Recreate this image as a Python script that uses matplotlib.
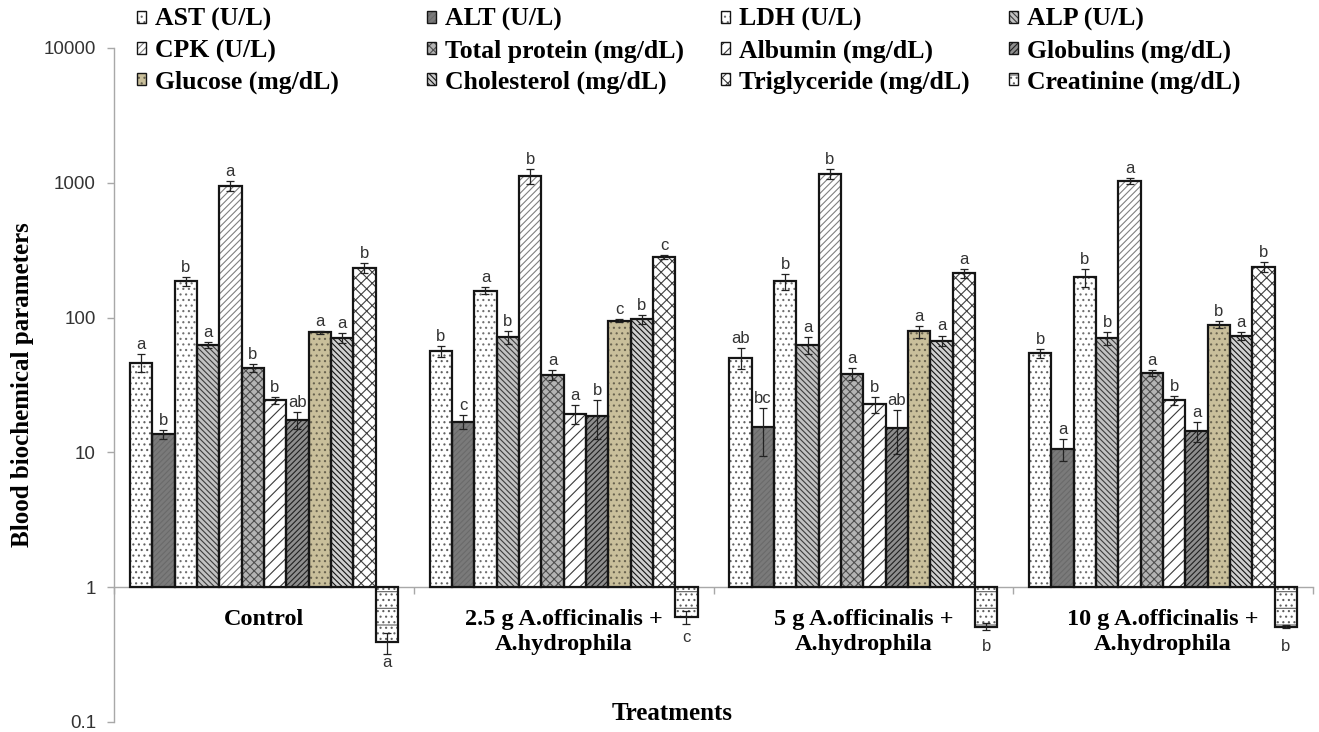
import matplotlib
matplotlib.use("Agg")
import matplotlib.pyplot as plt
import numpy as np
from matplotlib.patches import Patch
from matplotlib.font_manager import FontProperties

# ---------------------------------------------------------------- data
treatments = [
    "Control",
    "2.5 g A.officinalis +\nA.hydrophila",
    "5 g A.officinalis +\nA.hydrophila",
    "10 g A.officinalis +\nA.hydrophila",
]
parameters = [
    "AST (U/L)", "ALT (U/L)", "LDH (U/L)", "ALP (U/L)",
    "CPK (U/L)", "Total protein (mg/dL)", "Albumin (mg/dL)", "Globulins (mg/dL)",
    "Glucose (mg/dL)", "Cholesterol (mg/dL)", "Triglyceride (mg/dL)", "Creatinine (mg/dL)",
]

# mean values per treatment, in the order of `parameters`
control_mean = [46.4, 13.6, 186, 62.8, 950, 42.4, 24.3, 17.3, 77.8, 70.7, 233, 0.39]
g25_mean = [56.3, 16.8, 158.5, 71.5, 1127, 37.6, 19.3, 18.5, 95, 97, 283, 0.60]
g5_mean = [50.3, 15.4, 186, 62.8, 1172, 38.3, 22.7, 15.2, 79, 67.6, 213, 0.51]
g10_mean = [54.4, 10.6, 199, 70.7, 1035, 38.9, 24.3, 14.4, 88.8, 73.5, 239, 0.51]

# standard errors
control_err = [7, 1, 15, 3, 85, 3, 1.5, 2.5, 2, 6, 20, 0.07]
g25_err = [5, 2, 10, 8, 140, 3, 3, 6, 2, 7, 10, 0.07]
g5_err = [9, 6, 25, 9, 100, 4, 3, 5.5, 8, 6, 15, 0.03]
g10_err = [4, 2, 30, 8, 55, 2, 2, 2.5, 5, 5, 20, 0.01]

# significance letters
control_sig = ["a", "b", "b", "a", "a", "b", "b", "ab", "a", "a", "b", "a"]
g25_sig = ["b", "c", "a", "b", "b", "a", "a", "b", "c", "b", "c", "c"]
g5_sig = ["ab", "bc", "b", "a", "b", "a", "b", "ab", "a", "a", "a", "b"]
g10_sig = ["b", "a", "b", "b", "a", "a", "b", "a", "b", "a", "b", "b"]

means = [control_mean, g25_mean, g5_mean, g10_mean]
errors = [control_err, g25_err, g5_err, g10_err]
letters = [control_sig, g25_sig, g5_sig, g10_sig]

# ---------------------------------------------------------------- styles
# (face colour, hatch, hatch colour) per parameter
styles = [
    ("#ffffff", "...", "#606060"),           # AST
    ("#7a7a7a", "//////", "#6a6a6a"),        # ALT
    ("#ffffff", "...", "#707070"),           # LDH
    ("#c2c2c2", "\\\\\\\\\\\\", "#3c3c3c"),  # ALP
    ("#ffffff", "/////", "#808080"),         # CPK
    ("#b4b4b4", "xxxx", "#505050"),          # Total protein
    ("#ffffff", "///", "#3a3a3a"),           # Albumin
    ("#8e8e8e", "//////", "#202020"),        # Globulins
    ("#c9bf9b", "...", "#6a6450"),           # Glucose
    ("#cfcfcf", "\\\\\\\\\\\\", "#141414"),  # Cholesterol
    ("#ffffff", "xxx", "#404040"),           # Triglyceride
    ("#ffffff", "-...", "#606060"),          # Creatinine
]

plt.rcParams["hatch.linewidth"] = 0.8
serif = "Liberation Serif"
sans = "Liberation Sans"
axis_grey = "#a8a8a8"
edge = "#151515"

W, H = 1319, 732
fig = plt.figure(figsize=(W / 100, H / 100), dpi=100)
ax = fig.add_axes([114 / W, 10 / H, 1199 / W, 674 / H])
ax.set_yscale("log")

n_par = len(parameters)
bar_w = 0.0745
xc = np.arange(len(treatments))

for j in range(n_par):
    vals = np.array([m[j] for m in means], dtype=float)
    errs = np.array([e[j] for e in errors], dtype=float)
    xs = xc + (j - (n_par - 1) / 2) * bar_w
    face, hatch, hcol = styles[j]
    ax.bar(xs, vals - 1, bottom=1, width=bar_w, color=face, hatch=hatch,
           edgecolor=hcol, linewidth=0, zorder=2)
    ax.bar(xs, vals - 1, bottom=1, width=bar_w, fill=False,
           edgecolor=edge, linewidth=1.6, zorder=3)
    ax.errorbar(xs, vals, yerr=errs, fmt="none", ecolor="#222222",
                elinewidth=0.9, capsize=3, capthick=0.9, zorder=4)
    for k in range(len(treatments)):
        sig = letters[k][j]
        if vals[k] >= 1:
            ax.annotate(sig, (xs[k], vals[k] + errs[k]), xytext=(0, 1.5),
                        textcoords="offset points", ha="center", va="bottom",
                        fontsize=12, family=sans, color="#333333", zorder=5)
        else:
            ax.annotate(sig, (xs[k], vals[k]), xytext=(0, -9),
                        textcoords="offset points", ha="center", va="top",
                        fontsize=12, family=sans, color="#333333", zorder=5)

# treatment names under the baseline at y = 1
for k, name in enumerate(treatments):
    ax.annotate(name, (xc[k], 1), xytext=(0, -15.5), textcoords="offset points",
                ha="center", va="top", fontsize=17.5, fontweight="bold",
                family=serif, linespacing=1.25, zorder=5)

ax.set_xlim(-0.5, len(treatments) - 0.5)
ax.set_ylim(0.1, 10000)

yt = [0.1, 1, 10, 100, 1000, 10000]
ax.set_yticks(yt)
ax.set_yticklabels(["0.1", "1", "10", "100", "1000", "10000"])
ax.yaxis.set_minor_locator(matplotlib.ticker.NullLocator())
ax.set_xticks(np.arange(len(treatments) + 1) - 0.5)
ax.set_xticklabels([])

for s in ["top", "right"]:
    ax.spines[s].set_visible(False)
ax.spines["left"].set_color(axis_grey)
ax.spines["left"].set_linewidth(1.0)
ax.spines["bottom"].set_position(("data", 1))
ax.spines["bottom"].set_color(axis_grey)
ax.spines["bottom"].set_linewidth(1.0)
ax.spines["bottom"].set_zorder(1)
ax.tick_params(axis="x", length=5, width=1, color=axis_grey, direction="out")
ax.tick_params(axis="y", length=5, width=1, color=axis_grey, direction="out",
               labelsize=13.5, labelcolor="#333333", pad=8)
for t in ax.get_yticklabels():
    t.set_family(sans)

fig.text(23 / W, 1 - 385 / H, "Blood biochemical parameters", rotation=90,
         ha="center", va="center", fontsize=18, fontweight="bold", family=serif)
fig.text(672 / W, 1 - 713 / H, "Treatments", ha="center", va="center",
         fontsize=18, fontweight="bold", family=serif)

# legend: 4 columns x 3 rows, filled row by row
leg_font = FontProperties(family=serif, weight="bold", size=18.5)
handles = []
for face, hatch, hcol in styles:
    handles.append((Patch(facecolor=face, hatch=hatch, edgecolor=hcol, linewidth=0),
                    Patch(fill=False, edgecolor=edge, linewidth=1.0)))
col_x = [137, 427, 721, 1009]
for c in range(4):
    idx = [c, c + 4, c + 8]
    fig.legend([handles[i] for i in idx], [parameters[i] for i in idx],
               loc="upper left", bbox_to_anchor=(col_x[c] / W, 1 - 8 / H),
               frameon=False, borderpad=0, borderaxespad=0,
               handlelength=0.36, handleheight=0.36, handletextpad=0.35,
               labelspacing=0.3, prop=leg_font)

fig.savefig("out.png", dpi=100)
